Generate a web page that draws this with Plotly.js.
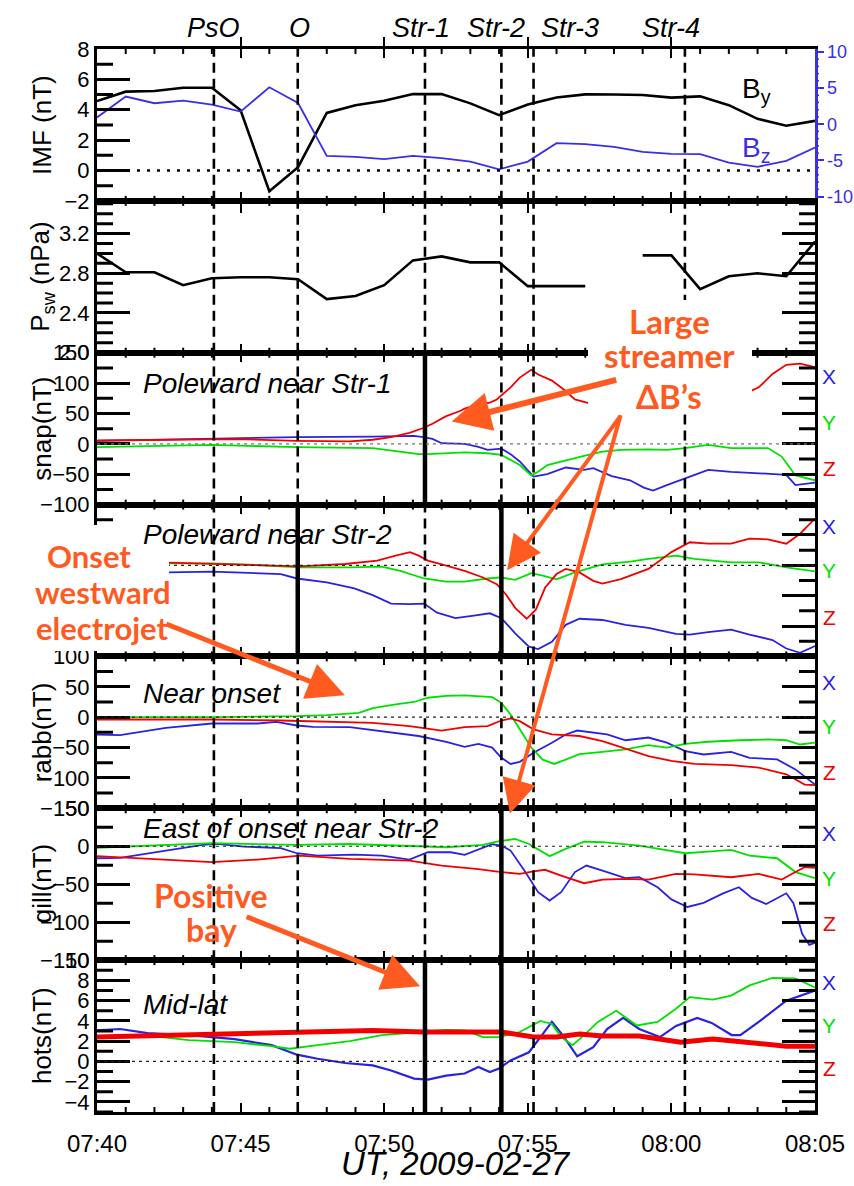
<!DOCTYPE html>
<html><head><meta charset="utf-8">
<script src="https://cdn.plot.ly/plotly-3.0.1.min.js"></script>
<style>html,body{margin:0;padding:0;background:#fff}#chart{width:854px;height:1186px}</style>
</head><body><div id="chart"></div>
<script>
// ---------- axis labels / events ----------
const tickMinutes = [0,5,10,15,20,25];
const tickLabels = ["07:40","07:45","07:50","07:55","08:00","08:05"];
const bzTickValues = [-10,-5,0,5,10];
const bzTickLabels = ["-10","-5","0","5","10"];
const eventNames = ["PsO","O","Str-1","Str-2","Str-3","Str-4"];
const eventMinutes = [4.07,6.99,11.42,14.08,15.2,20.47];
const solidEvents = {3:["Str-1"],4:["O","Str-2"],6:["Str-2"],7:["Str-1","Str-2"]};

// ---------- panel 1 & 2 : solar wind (1-min) ----------
const imfMinutes = [0,1,2,3,4,5,6,7,8,9,10,11,12,13,14,15,16,17,18,19,20,21,22,23,24,25];
const imfBy = [4.57,5.19,5.23,5.45,5.45,3.97,-1.37,0.22,3.79,4.30,4.59,5.03,5.03,4.42,3.64,4.35,4.81,5.01,5.00,4.97,4.80,4.88,4.30,3.40,2.95,3.27];
const imfBz = [0.94,3.82,2.90,3.26,2.70,1.74,5.11,2.94,-4.38,-4.51,-4.84,-4.38,-4.70,-5.17,-6.23,-5.17,-2.62,-2.75,-3.13,-3.82,-4.10,-4.15,-5.30,-5.90,-5.07,-3.22];
const pswValues = [3.00,2.81,2.81,2.68,2.75,2.76,2.76,2.74,2.54,2.57,2.68,2.93,2.97,2.91,2.91,2.67,2.67,2.67,null,2.98,2.98,2.64,2.77,2.80,2.77,3.12];

// ---------- panel 3 : snap ----------
const snapXt = [0,4.0,6.96,9.6,11.04,11.36,11.68,12.0,12.8,13.28,13.6,14.08,14.4,14.72,15.2,15.68,16.32,16.96,17.28,17.92,18.56,19.04,19.36,19.84,20.48,21.28,22.08,22.72,23.36,24.0,24.32,25];
const snapX = [5,9,11,12,13,11,8,1,0,-5,-10,-8,-17,-29,-54,-50,-39,-43,-40,-53,-60,-72,-77,-68,-57,-43,-46,-48,-49,-51,-68,-64];
const snapYt = [0,4.0,6.96,9.6,11.2,11.52,12.8,13.6,14.08,14.72,15.12,15.36,15.68,16.32,16.96,17.6,18.24,19.2,19.84,20.48,21.28,22.08,23.36,23.84,24.32,25];
const snapY = [-5.5,-1.7,-5.5,-7,-17,-17,-14,-15.5,-18,-35,-52,-46,-35,-27,-20,-13,-10,-9,-10,-7,-1.7,-7,-7,-21,-52,-60];
const snapZt = [0,3.2,4.8,6.96,8.8,9.6,10.24,10.88,11.36,11.68,12.16,12.64,12.8,13.28,13.68,13.92,14.4,14.72,15.12,15.36,15.84,16.32,16.64,17.12,20.0,22.72,23.04,23.52,24.0,24.48,25];
const snapZ = [5.5,6.7,7.8,5,4,6.7,11,18,26,33,45.5,54,58,65,68,73,93,109,122,114,104,87,73,67,null,86,93,115,130,132,126];

// ---------- panel 4 : poleward near Str-2 ----------
const p4Xt = [2.48,4.0,6.4,6.96,8.0,8.96,9.6,10.24,10.88,11.39,11.84,12.48,13.12,13.68,14.08,14.56,15.04,15.36,15.84,16.32,16.8,17.6,18.4,19.2,20.16,20.64,21.28,22.08,22.72,23.52,24.0,24.48,25];
const p4X = [-11.7,-10.5,-14.4,-21.7,-28,-38,-49,-63,-64,-63,-78,-87,-83,-79,-87,-112,-134,-138,-126,-98,-88,-90,-98,-103,-113,-114,-110,-106,-114,-123,-137,-144,-133];
const p4Yt = [2.48,4.0,5.6,7.04,8.8,9.92,10.56,11.39,12.16,12.8,13.6,14.08,14.56,15.12,15.52,16.0,16.64,17.6,18.56,19.2,20.16,20.8,22.08,23.04,24.0,25];
const p4Y = [3.3,3.3,0.5,-3.3,-3.3,-2,-9,-21.7,-27,-27,-21.7,-20,-24,-13,-17,-23,-11.7,1.7,6,10.5,16,10.5,5,5,-3.3,-10];
const p4Zt = [2.48,4.0,5.6,7.04,8.64,9.76,10.4,10.9,11.2,11.52,12.16,12.8,13.44,13.92,14.24,14.56,14.96,15.28,15.6,16.0,16.32,16.8,17.28,17.6,18.24,19.2,20.0,20.64,21.28,22.08,22.72,23.36,24.0,24.48,25];
const p4Z = [4.4,2.2,-0.5,-1.7,2.2,7.8,16,21.7,16,7.8,-0.5,-9,-20,-31,-48,-70,-88,-73,-37,-14.4,-6,-11.7,-25.5,-30,-22.8,-6,21.7,38,35.6,35.6,44,42.8,35.6,52,77];

// ---------- panel 5 : rabb ----------
const rabbXt = [0,0.8,2.4,4.0,5.6,6.24,6.96,7.52,8.8,10.24,11.2,12.16,12.8,13.28,13.76,14.08,14.4,14.72,15.2,15.84,16.32,16.72,17.28,17.76,18.4,19.2,19.84,20.48,21.12,22.08,22.72,23.68,24.32,25];
const rabbX = [-28.5,-29.6,-17.5,-10.4,-10.4,-7.7,-13.7,-16,-16.4,-25.8,-31,-40.6,-49,-44,-50,-67,-77,-73.5,-58.7,-42,-28.5,-22,-25.8,-28.5,-38,-33.5,-42,-56,-61.4,-57,-67,-69.6,-86,-111];
const rabbYt = [0,4.0,6.96,8.0,9.12,9.6,10.4,11.04,11.52,12.16,12.8,13.76,14.08,14.4,14.72,15.12,15.52,15.92,16.32,16.8,17.6,18.4,19.2,19.84,20.48,21.28,22.4,23.36,24.0,24.48,25];
const rabbY = [0,0,1.6,3.3,7,15,21,25,32,35,36,33,23.6,4.4,-20,-50,-70,-77,-70,-61,-57,-53,-46,-50,-44,-40.5,-38,-36.7,-38,-45,-42];
const rabbZt = [0,4.0,6.4,8.0,9.6,10.88,12.0,12.8,13.6,14.08,14.4,14.72,15.2,15.84,16.8,17.6,18.4,19.2,20.0,20.8,22.08,23.04,24.0,24.64,25];
const rabbZ = [-3.8,-3.8,-5.5,-7.7,-9.3,-14.8,-22,-16.4,-14.8,-5.5,-2.2,-6.6,-20,-28.5,-31,-39.5,-51.5,-64,-72,-77,-79,-83,-94,-111,-112];

// ---------- panel 6 : gill ----------
const gillXt = [0,0.8,2.4,3.68,4.16,5.12,6.4,6.96,7.68,8.96,9.92,10.88,11.52,12.32,12.8,13.28,13.76,14.08,14.4,14.88,15.36,15.76,16.16,16.64,17.04,17.6,18.4,18.88,19.52,20.0,20.56,21.12,21.8,22.35,22.8,23.3,23.7,24.0,24.25,24.55,24.8,25];
const gillX = [-15.8,-15.4,-5.7,1.7,3,-0.4,-2.6,-9.2,-12.3,-11,-12.3,-17.5,-7.9,-7.9,-11.4,-4.4,2.6,0.9,-5.7,-32,-60.5,-71.5,-60.5,-34,-25.4,-32,-42,-40.8,-54,-70,-80,-74.6,-62,-54,-68,-76,-68,-62,-75,-115,-130,-127];
const gillYt = [0,2.4,4.0,6.96,8.8,11.2,12.16,13.44,13.92,14.56,15.04,15.76,16.32,16.96,17.6,18.88,19.84,20.48,21.28,22.08,22.72,23.68,24.32,25];
const gillY = [-2,1.7,4,1.7,3,0,-1.3,1.7,6,9.6,3,-13,-3.5,6,5.3,0.9,-5.7,-9.2,-7,-4.8,-12.3,-15.8,-34,-42];
const gillZt = [0,2.4,4.0,5.6,7.04,8.8,10.88,12.0,13.28,14.08,14.72,15.2,15.6,16.16,16.96,17.6,18.4,19.2,20.16,20.8,22.08,23.04,23.84,24.32,24.64,25];
const gillZ = [-13,-18,-21,-17.5,-12.3,-16.7,-18.9,-25.4,-30,-34,-36.4,-33,-31,-38.6,-48.7,-44,-43,-43.9,-36.4,-37,-40.8,-36.4,-43.9,-34,-27.6,-28.5];

// ---------- panel 7 : hots ----------
const hotsXt = [0,0.8,1.76,3.2,4.8,6.08,6.96,7.68,8.64,9.6,10.24,11.04,11.52,12.16,12.8,13.28,13.68,14.0,14.4,15.04,15.44,15.84,16.24,16.72,17.28,17.76,18.32,18.88,19.6,20.16,20.9,21.4,22.1,22.4,23.04,24.0,25];
const hotsX = [3.06,3.2,2.8,2.6,2.2,1.6,0.66,0.26,-0.16,-0.4,-0.9,-1.7,-1.8,-1.4,-1.2,-0.56,-1.05,-0.7,0.1,0.9,2.4,3.9,2.5,0.5,1.4,3.2,4.3,3.2,2.4,3.5,4.3,3.8,2.6,2.6,3.9,6.0,7.0];
const hotsYt = [0,1.6,3.2,4.8,6.08,6.72,7.68,8.8,9.92,11.2,12.16,12.8,13.44,14.0,14.72,15.44,15.84,16.16,16.56,16.96,17.44,18.08,18.8,19.52,20.16,20.64,21.44,22.08,22.72,23.52,24.32,25];
const hotsY = [2.4,2.6,2.1,1.9,1.5,1.25,1.6,2.0,2.6,2.9,3.1,3.06,2.4,2.4,2.9,4.0,3.7,2.4,1.6,2.6,3.9,5.0,3.55,3.9,5.2,6.35,6.1,6.5,7.5,8.25,8.2,7.3];
const hotsZt = [0,1.6,4.0,6.96,9.6,11.39,14.08,15.2,16.0,16.8,17.6,18.88,20.32,21.44,22.4,24.0,25];
const hotsZ = [2.4,2.5,2.6,2.9,3.06,2.9,2.9,2.4,2.4,2.7,2.5,2.5,1.9,2.2,1.9,1.5,1.5];

// ---------- styling ----------
const BLUE = '#2a22e0', GREEN = '#00e000', RED = '#f20000', BZC = '#3a2ee6', ORANGE = '#ff5a1f';
const TICKC = 'black';
const FONT = 'Liberation Sans, Arial, Helvetica, sans-serif';
const ANNO_FONT = 'Lato, Open Sans, sans-serif';
const PX_L = 97, PX_R = 815, PX_T = 49, PX_B = 1112;
const PLOT_W = PX_R - PX_L, PLOT_H = PX_B - PX_T;
const px2x = p => (p - PX_L) / PLOT_W;
const py2y = p => (PX_B - p) / PLOT_H;

const panels = [
  {title:'IMF (nT)', range:[-2,8], tick0:0, dtick:2, minor:1, fmt:'', labels:true},
  {title:'P<sub>sw</sub> (nPa)', range:[1.999,3.53], tick0:2.0, dtick:0.4, minor:0.1, fmt:'.1f', labels:true},
  {title:'snap(nT)', range:[-100,150], tick0:0, dtick:50, minor:25, fmt:'', labels:true},
  {title:'', range:[-150,100], tick0:0, dtick:50, minor:25, fmt:'', labels:false},
  {title:'rabb(nT)', range:[-150,100], tick0:0, dtick:50, minor:25, fmt:'', labels:true},
  {title:'gill(nT)', range:[-150,50], tick0:0, dtick:50, minor:25, fmt:'', labels:true},
  {title:'hots(nT)', range:[-5,10], tick0:0, dtick:2, minor:1, fmt:'', labels:true}
];
const ids = k => ({x: k===1?'x':'x'+k, y: k===1?'y':'y'+k, xn: k===1?'xaxis':'xaxis'+k, yn: k===1?'yaxis':'yaxis'+k});

function tr(x, y, color, width, k, yid) {
  return {type:'scatter', mode:'lines', x:x, y:y, xaxis:ids(k).x, yaxis:yid||ids(k).y,
          line:{color:color, width:width}, connectgaps:false, hoverinfo:'skip'};
}

const data = [
  tr(imfMinutes, imfBz, BZC, 1.8, 1, 'y8'),
  tr(imfMinutes, imfBy, 'black', 2.6, 1),
  tr(imfMinutes, pswValues, 'black', 2.6, 2),
  tr(snapXt, snapX, BLUE, 1.8, 3), tr(snapYt, snapY, GREEN, 1.8, 3), tr(snapZt, snapZ, RED, 1.8, 3),
  tr(p4Xt, p4X, BLUE, 1.8, 4), tr(p4Yt, p4Y, GREEN, 1.8, 4), tr(p4Zt, p4Z, RED, 1.8, 4),
  tr(rabbXt, rabbX, BLUE, 1.8, 5), tr(rabbYt, rabbY, GREEN, 1.8, 5), tr(rabbZt, rabbZ, RED, 1.8, 5),
  tr(gillXt, gillX, BLUE, 1.8, 6), tr(gillYt, gillY, GREEN, 1.8, 6), tr(gillZt, gillZ, RED, 1.8, 6),
  tr(hotsXt, hotsX, BLUE, 2.2, 7), tr(hotsYt, hotsY, GREEN, 1.8, 7), tr(hotsZt, hotsZ, RED, 5, 7)
];

const layout = {
  width:854, height:1186, margin:{l:97, r:39, t:49, b:74},
  paper_bgcolor:'white', plot_bgcolor:'white', showlegend:false,
  font:{family:FONT, color:'black', size:22},
  shapes:[], annotations:[]
};
const S = layout.shapes;

for (let k = 1; k <= 7; k++) {
  const P = panels[k-1], I = ids(k);
  const top = 1 - (k-1)/7, bot = 1 - k/7;
  layout[I.xn] = {domain:[0,1], anchor:I.y, range:[0,25], showline:true, linecolor:'black', linewidth:3,
    mirror:'allticks', ticks:'inside', ticklen:9, tickwidth:2, tickcolor:'black',
    tickmode:'array', tickvals:tickMinutes, ticktext:tickLabels, showticklabels:k===7,
    tickfont:{size:24, family:FONT}, ticklabelstandoff:8,
    showgrid:false, zeroline:false, fixedrange:true};
  layout[I.yn] = {domain:[bot,top], anchor:I.x, range:P.range, showline:true, linecolor:'black', linewidth:3,
    mirror: k===1 ? false : 'allticks', ticks:'inside', ticklen:33, tickwidth:3, tickcolor:'black',
    tick0:P.tick0, dtick:P.dtick, tickformat:P.fmt, tickfont:{size:22, family:FONT}, showticklabels:P.labels,
    showgrid:false, zeroline:false, fixedrange:true};

  // minor y ticks (short, inside, both sides)
  const ratio = Math.round(P.dtick / P.minor);
  const n0 = Math.ceil((P.range[0] - P.tick0) / P.minor - 1e-6), n1 = Math.floor((P.range[1] - P.tick0) / P.minor + 1e-6);
  for (let n = n0; n <= n1; n++) {
    if (n % ratio === 0) continue;
    const v = P.tick0 + n * P.minor;
    S.push({type:'line', xref:'paper', yref:I.y, x0:0, x1:16/PLOT_W, y0:v, y1:v, line:{color:TICKC, width:3}, layer:'above'});
    if (k > 1) S.push({type:'line', xref:'paper', yref:I.y, x0:1-16/PLOT_W, x1:1, y0:v, y1:v, line:{color:TICKC, width:3}, layer:'above'});
  }
  // minor x ticks (every minute, bottom and top)
  for (let m = 1; m < 25; m++) {
    if (m % 5 === 0) continue;
    S.push({type:'line', xref:I.x, yref:'paper', x0:m, x1:m, y0:bot, y1:bot+5/PLOT_H, line:{color:TICKC, width:2}, layer:'above'});
    S.push({type:'line', xref:I.x, yref:'paper', x0:m, x1:m, y0:top-5/PLOT_H, y1:top, line:{color:TICKC, width:2}, layer:'above'});
  }

  // event lines
  eventNames.forEach((nm, i) => {
    const solid = (solidEvents[k] || []).indexOf(nm) >= 0;
    S.push({type:'line', xref:I.x, yref:I.y+' domain', x0:eventMinutes[i], x1:eventMinutes[i], y0:0, y1:1,
      line:{color:'black', width: solid ? 4.5 : 2.6, dash: solid ? 'solid' : '10px,6px'}, layer:'above'});
  });
  // zero line
  S.push({type:'line', xref:I.x+' domain', yref:I.y, x0:0, x1:1, y0:0, y1:0,
    line: k===1 ? {color:'black', width:2.6, dash:'3px,7px'} : {color: k===3 ? '#777' : '#222', width:1.2, dash:'3px,4px'}, layer:'above'});

  // y title
  if (P.title) layout.annotations.push({xref:'paper', yref:I.y+' domain', x:px2x(42), y:0.5, text:P.title,
    textangle:-90, showarrow:false, font:{size:26, family:FONT}, xanchor:'center', yanchor:'middle'});
}

const BZ_RANGE = [-10.6, 10.4];
layout.yaxis8 = {overlaying:'y', side:'right', anchor:'x', range:BZ_RANGE, showline:true, linecolor:BZC, linewidth:2.5,
  ticks:'outside', ticklen:6, tickwidth:2, tickcolor:BZC, tickmode:'array', tickvals:bzTickValues, ticktext:bzTickLabels,
  tickfont:{size:18, color:BZC, family:FONT}, showgrid:false, zeroline:false, fixedrange:true};
// minor ticks of the Bz axis (outside, every 1 nT)
for (let v = -10; v <= 10; v++) {
  if (v % 5 === 0) continue;
  const yp = 6/7 + (v - BZ_RANGE[0]) / (BZ_RANGE[1] - BZ_RANGE[0]) / 7;
  S.push({type:'line', xref:'paper', yref:'paper', x0:1, x1:1+4/PLOT_W, y0:yp, y1:yp, line:{color:BZC, width:1.5}, layer:'above'});
}

// white label boxes
const box = (x0,x1,y0,y1) => ({type:'rect', xref:'paper', yref:'paper', x0:px2x(x0), x1:px2x(x1), y0:py2y(y1), y1:py2y(y0),
  fillcolor:'white', line:{width:0}, layer:'above'});
S.push(box(588,752,300,413));
S.push(box(18,150,525,548));
S.push(box(18,169,548,651));

const A = layout.annotations;
// event labels at top
const eventLabelShift = [0,2,-4,-5,36,-14];
eventNames.forEach((nm,i) => A.push({xref:'x', yref:'paper', x:eventMinutes[i], y:py2y(28), text:nm, showarrow:false,
  xshift:eventLabelShift[i], font:{size:27, family:FONT, style:'italic'}, xanchor:'center', yanchor:'middle'}));

// IMF component labels
A.push({xref:'paper', yref:'paper', x:px2x(756), y:py2y(91), text:'B<sub>y</sub>', showarrow:false, font:{size:28, color:'black'}, xanchor:'center', yanchor:'middle'});
A.push({xref:'paper', yref:'paper', x:px2x(756), y:py2y(149), text:'B<sub>z</sub>', showarrow:false, font:{size:28, color:BZC}, xanchor:'center', yanchor:'middle'});

// panel notes
const notes = [[3,'Poleward near Str-1',383],[4,'Poleward near Str-2',534],[5,'Near onset',693],[6,'East of onset near Str-2',828],[7,'Mid-lat',1004]];
notes.forEach(n => A.push({xref:'paper', yref:'paper', x:px2x(141), y:py2y(n[2]), text:n[1], showarrow:false,
  xanchor:'left', yanchor:'middle', font:{size:28, family:FONT, style:'italic'}}));

// X Y Z component labels
const compRows = {3:[377,422,468],4:[526,570,618],5:[682,726,772],6:[833,878,923],7:[982,1025,1068]};
Object.keys(compRows).forEach(k => {
  [['X',BLUE],['Y',GREEN],['Z',RED]].forEach((c,i) => A.push({xref:'paper', yref:'paper', x:px2x(829), y:py2y(compRows[k][i]),
    text:c[0], showarrow:false, font:{size:21, color:c[1], family:FONT}, xanchor:'center', yanchor:'middle'}));
});

// x-axis title
A.push({xref:'paper', yref:'paper', x:0.5, y:py2y(1163), text:'UT, 2009-02-27', showarrow:false,
  font:{size:33, family:FONT, style:'italic'}, xanchor:'center', yanchor:'middle'});

// orange callouts
const otext = (t,x,y,s) => A.push({xref:'paper', yref:'paper', x:px2x(x), y:py2y(y), text:t, showarrow:false,
  xanchor:'center', yanchor:'middle', font:{size:s, color:ORANGE, family:ANNO_FONT, weight:'bold'}});
otext('Large',669,321,33); otext('streamer',669,355,33); otext('\u0394B\u2019s',669,396,33);
otext('Onset',89,556,31); otext('westward',102,592,31); otext('electrojet',102,628,31);
otext('Positive',211,895,32); otext('bay',211,929,32);

const arrow = (k,x,y,ax,ay,w,s) => A.push({xref:ids(k).x, yref:ids(k).y, x:x, y:y, ax:ax, ay:ay, axref:'pixel', ayref:'pixel',
  text:'', showarrow:true, arrowhead:2, arrowsize:s, arrowwidth:w, arrowcolor:ORANGE, standoff:0});
arrow(3, 12.35, 36.7, 166, -42, 6, 1.3);
arrow(4, 14.28, -8, 114, -155, 4, 1.7);
arrow(6, 14.38, 43, 111, -400, 4, 1.7);
arrow(5, 8.63, 35.9, -180, -72, 5, 1.5);
arrow(7, 11.25, 7.43, -175, -70, 5, 1.5);

Plotly.newPlot('chart', data, layout, {staticPlot:true, displayModeBar:false});
</script></body></html>
